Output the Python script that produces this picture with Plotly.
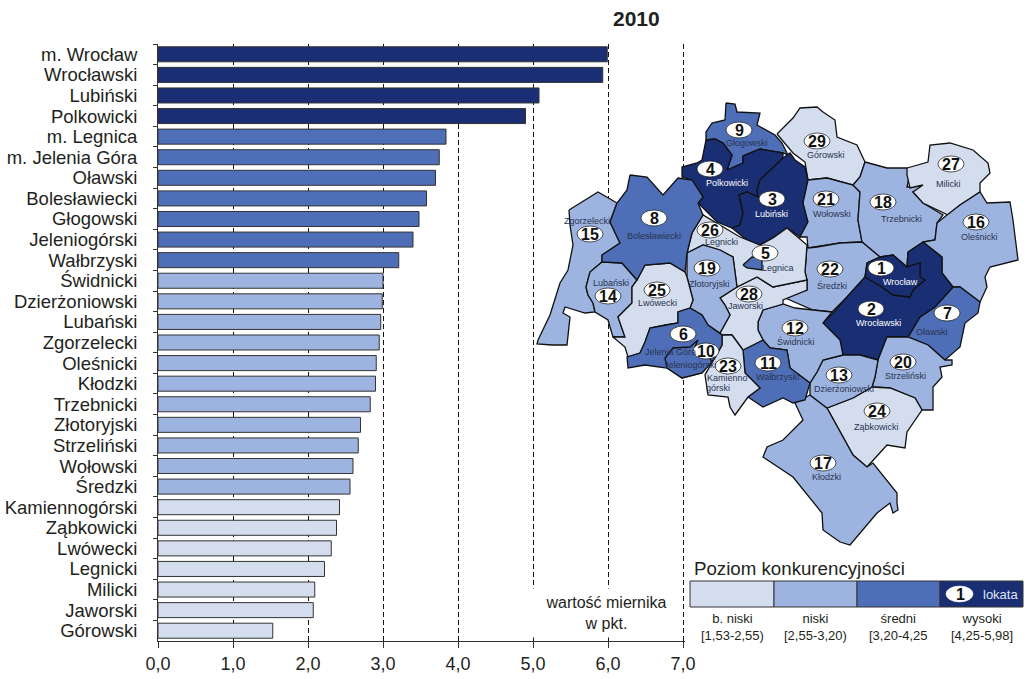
import plotly.graph_objects as go

FONT = "Liberation Sans"
TXT = "#231f20"
C_VLOW, C_LOW, C_MID, C_HIGH = "#d3ddee", "#9db3e0", "#4e6fb8", "#1a2f73"

categories = ["m. Wrocław", "Wrocławski", "Lubiński", "Polkowicki", "m. Legnica", "m. Jelenia Góra", "Oławski",
              "Bolesławiecki", "Głogowski", "Jeleniogórski", "Wałbrzyski", "Świdnicki", "Dzierżoniowski", "Lubański",
              "Zgorzelecki", "Oleśnicki", "Kłodzki", "Trzebnicki", "Złotoryjski", "Strzeliński", "Wołowski", "Średzki",
              "Kamiennogórski", "Ząbkowicki", "Lwówecki", "Legnicki", "Milicki", "Jaworski", "Górowski"]
values = [5.99, 5.93, 5.08, 4.90, 3.84, 3.75, 3.70, 3.58, 3.48, 3.40, 3.21, 3.00, 2.99, 2.97, 2.95, 2.91, 2.90,
          2.83, 2.70, 2.67, 2.60, 2.56, 2.42, 2.38, 2.31, 2.22, 2.09, 2.07, 1.53]
levels = [3, 3, 3, 3, 2, 2, 2, 2, 2, 2, 2, 1, 1, 1, 1, 1, 1, 1, 1, 1, 1, 1, 0, 0, 0, 0, 0, 0, 0]
level_colors = [C_VLOW, C_LOW, C_MID, C_HIGH]
x_ticks = [0, 1, 2, 3, 4, 5, 6, 7]
x_tick_labels = ["0,0", "1,0", "2,0", "3,0", "4,0", "5,0", "6,0", "7,0"]

# map outlines, in picture pixels
glogowski = [(726,103),(735,104),(737,112),(760,113),(757,125),(775,135),(782,143),(788,155),(783,153),(760,149),(743,156),(743,163),(727,170),(732,155),(723,143),(715,139),(706,140),(706,132),(712,123),(725,120)]
polkowicki = [(706,140),(715,139),(723,143),(732,155),(727,170),(743,163),(743,156),(760,149),(783,153),(783,158),(773,168),(760,180),(757,190),(758,197),(747,192),(739,195),(743,213),(740,225),(732,228),(717,222),(698,203),(703,197),(692,180),(682,177),(682,167),(697,163),(702,160)]
lubinski = [(783,158),(773,168),(760,180),(757,190),(758,197),(747,192),(739,195),(743,213),(740,225),(732,228),(743,237),(753,243),(760,245),(773,238),(787,228),(800,237),(808,222),(803,203),(808,180),(805,167),(795,160),(790,153)]
gorowski = [(777,134),(793,118),(800,108),(817,107),(823,112),(835,120),(837,137),(857,145),(865,162),(860,177),(853,185),(827,178),(808,180),(805,162),(793,153),(780,138)]
wolowski = [(808,180),(827,178),(853,185),(860,192),(858,220),(862,242),(840,243),(817,247),(808,248),(807,237),(800,237),(808,222),(803,203)]
trzebnicki = [(865,162),(887,168),(907,168),(910,173),(907,187),(923,186),(913,192),(923,203),(943,215),(937,223),(935,240),(923,242),(908,252),(907,267),(893,255),(880,257),(862,242),(858,220),(860,192),(853,185),(860,177)]
milicki = [(907,168),(928,162),(930,145),(950,143),(973,150),(988,163),(990,173),(980,183),(980,192),(960,205),(948,215),(923,203),(913,192),(923,185),(910,188),(907,175)]
olesnicki = [(947,215),(960,205),(980,192),(987,203),(1010,202),(1013,220),(1018,260),(990,267),(985,277),(987,287),(980,302),(960,287),(953,287),(942,273),(942,257),(923,242),(935,240),(937,223)]
wroclaw = [(867,263),(880,257),(893,255),(907,267),(920,263),(920,277),(925,280),(913,290),(910,297),(893,295),(882,287),(865,277)]
wroclawski = [(908,252),(923,242),(933,250),(942,257),(942,273),(953,287),(935,307),(920,317),(908,337),(887,337),(878,360),(860,355),(843,355),(840,340),(823,323),(833,313),(847,297),(865,277),(882,287),(893,295),(910,297),(913,290),(925,280),(920,277),(920,263),(907,267)]
sredzki = [(808,248),(817,247),(840,243),(862,242),(880,257),(867,263),(865,277),(847,297),(832,312),(813,310),(783,297),(807,290),(807,280),(805,272),(807,245)]
olawski = [(953,287),(960,287),(980,302),(978,313),(965,323),(960,347),(945,360),(928,345),(908,337),(920,317),(935,307)]
strzelinski = [(887,337),(908,337),(928,345),(945,360),(952,360),(952,365),(940,367),(942,377),(933,387),(933,410),(922,410),(915,398),(890,388),(872,387),(875,377),(878,360)]
zabkowicki = [(827,408),(853,398),(872,387),(890,388),(915,398),(922,410),(907,432),(905,448),(887,445),(867,467),(853,455)]
dzierzoniowski = [(823,360),(843,355),(860,355),(878,360),(875,377),(872,387),(853,398),(827,408),(810,395),(810,383),(817,372)]
klodzki = [(810,395),(827,408),(853,455),(867,467),(873,463),(897,493),(897,503),(898,510),(893,513),(890,503),(877,513),(850,545),(840,542),(823,530),(822,513),(793,477),(763,457),(767,447),(783,440),(803,420),(795,403)]
walbrzyski = [(743,350),(763,340),(770,348),(787,350),(790,368),(810,383),(805,400),(793,403),(783,398),(763,407),(748,397),(760,388),(745,373)]
swidnicki = [(758,322),(763,310),(783,304),(795,308),(813,310),(832,312),(823,323),(840,340),(843,355),(823,360),(817,372),(810,383),(790,368),(787,350),(770,348),(763,340),(758,330)]
jaworski = [(720,298),(737,287),(757,277),(773,287),(807,280),(807,290),(783,300),(783,304),(763,310),(758,322),(758,330),(763,340),(743,350),(732,335),(722,335),(720,333),(730,315),(725,305)]
legnicki = [(692,233),(703,215),(740,237),(760,245),(773,238),(787,228),(807,245),(805,272),(807,280),(773,287),(757,277),(737,287),(733,257),(720,250),(703,245),(687,253)]
legnica = [(743,265),(752,257),(762,258),(762,270),(747,268)]
zlotoryjski = [(687,253),(703,245),(720,250),(733,257),(737,287),(720,298),(725,305),(730,315),(720,333),(708,325),(702,315),(690,308),(693,300),(687,277)]
lwowecki = [(632,287),(637,280),(645,265),(670,263),(685,272),(687,277),(693,300),(690,308),(678,312),(678,323),(665,325),(650,328),(645,342),(640,353),(628,357),(625,347),(613,337),(625,337),(618,317),(632,303)]
lubanski = [(586,287),(590,272),(602,262),(622,263),(637,280),(632,287),(632,303),(618,317),(625,337),(613,337),(608,320),(595,312),(593,303),(588,295)]
zgorzelecki = [(569,210),(580,203),(598,192),(617,203),(610,222),(620,243),(602,255),(602,262),(590,272),(586,287),(588,295),(593,303),(595,312),(585,313),(565,307),(563,313),(570,317),(567,345),(552,345),(537,344),(538,340),(550,315),(560,283),(568,270),(573,245),(570,225)]
boleslawiecki = [(630,175),(647,177),(663,195),(678,178),(692,180),(703,197),(698,203),(703,215),(692,233),(687,253),(685,272),(670,263),(645,265),(637,280),(622,263),(602,262),(602,255),(620,243),(610,222),(617,203),(627,190)]
jeleniogorski = [(690,308),(702,315),(708,325),(722,335),(722,345),(715,358),(702,373),(682,378),(667,368),(645,365),(628,368),(627,357),(640,353),(645,342),(650,328),(665,325),(678,323),(678,312)]
jelenia_gora = [(667,368),(665,358),(673,348),(690,347),(698,340),(695,347),(705,350),(712,362),(702,373),(682,378)]
kamiennogorski = [(722,335),(732,335),(743,350),(745,373),(760,388),(748,397),(735,415),(730,407),(728,397),(708,395),(705,375),(715,358),(722,345)]

regions = [(glogowski, C_MID), (gorowski, C_VLOW), (polkowicki, C_HIGH), (lubinski, C_HIGH), (wolowski, C_LOW),
           (trzebnicki, C_LOW), (milicki, C_VLOW), (olesnicki, C_LOW), (sredzki, C_LOW), (olawski, C_MID),
           (wroclawski, C_HIGH), (wroclaw, C_HIGH), (strzelinski, C_LOW), (zabkowicki, C_VLOW), (klodzki, C_LOW),
           (dzierzoniowski, C_LOW), (swidnicki, C_LOW), (walbrzyski, C_MID), (jaworski, C_VLOW), (legnicki, C_VLOW),
           (legnica, C_MID), (zlotoryjski, C_LOW), (zgorzelecki, C_LOW), (lubanski, C_LOW), (lwowecki, C_VLOW),
           (boleslawiecki, C_MID), (kamiennogorski, C_VLOW), (jeleniogorski, C_MID), (jelenia_gora, C_MID)]

rank_numbers = list(range(1, 30))
rank_x = [881, 871, 772, 710, 765, 683, 947, 654, 739, 706, 768, 795, 839, 608, 590, 976, 823, 883, 707, 903, 826, 830, 728, 877, 657, 710, 951, 749, 817]
rank_y = [268, 309, 199, 169, 253, 334, 313, 218, 130, 351, 363, 328, 375, 296, 234, 222, 463, 202, 268, 362, 199, 269, 366, 411, 290, 230, 164, 294, 141]
name_text = ["Wrocław", "Wrocławski", "Lubiński", "Polkowicki", "Legnica", "Jelenia Góra", "Oławski", "Bolesławiecki", "Głogowski", "Jeleniogórski", "Wałbrzyski", "Świdnicki", "Dzierżoniowski", "Lubański", "Zgorzelecki", "Oleśnicki", "Kłodzki", "Trzebnicki", "Złotoryjski", "Strzeliński", "Wołowski", "Średzki", "Kamienno", "Ząbkowicki", "Lwówecki", "Legnicki", "Milicki", "Jaworski", "Górowski"]
name_x = [900, 878, 771, 727, 778, 670, 932, 654, 747, 690, 777, 796, 844, 611, 587, 979, 826, 901, 709, 905, 832, 832, 727, 876, 657, 721, 948, 745, 826]
name_y = [282, 323, 214, 183, 268, 352, 332, 236, 143, 365, 377, 341, 389, 283, 221, 237, 477, 219, 284, 376, 214, 285, 378, 427, 303, 242, 184, 306, 155]
name_white = {0, 1, 2, 3}
extra_name, extra_name_x, extra_name_y = "górski", 718, 388

legend_edges = [690, 774, 857, 940, 1023]
legend_labels = ["b. niski<br>[1,53-2,55)", "niski<br>[2,55-3,20)", "średni<br>[3,20-4,25", "wysoki<br>[4,25-5,98]"]

fig = go.Figure()
fig.add_trace(go.Bar(y=categories, x=values, orientation="h", xaxis="x", yaxis="y", showlegend=False,
                     marker=dict(color=[level_colors[i] for i in levels], line=dict(color="#333333", width=1))))
for poly, col in regions:
    xs = [p[0] for p in poly] + [poly[0][0]]
    ys = [p[1] for p in poly] + [poly[0][1]]
    fig.add_trace(go.Scatter(x=xs, y=ys, xaxis="x2", yaxis="y2", mode="lines", fill="toself", fillcolor=col,
                             line=dict(color="#111111", width=1.3), showlegend=False, hoverinfo="skip"))

shapes, ann = [], []
for i, (x, y) in enumerate(zip(rank_x, rank_y)):
    shapes.append(dict(type="circle", xref="x2", yref="y2", x0=x-13, x1=x+13, y0=y-8, y1=y+8,
                       fillcolor="white", line=dict(color="#111111", width=0.7), layer="above"))
    ann.append(dict(x=x, y=y+0.5, xref="x2", yref="y2", text=str(rank_numbers[i]), showarrow=False,
                    font=dict(family=FONT, size=16, color="#111111", weight="bold")))
    ann.append(dict(x=name_x[i], y=name_y[i], xref="x2", yref="y2", text=name_text[i], showarrow=False,
                    font=dict(family=FONT, size=9, color="white" if i in name_white else "#2a3350")))
ann.append(dict(x=extra_name_x, y=extra_name_y, xref="x2", yref="y2", text=extra_name, showarrow=False,
                font=dict(family=FONT, size=9, color="#2a3350")))

for i in range(4):
    shapes.append(dict(type="rect", xref="x2", yref="y2", x0=legend_edges[i], x1=legend_edges[i+1], y0=581, y1=607,
                       fillcolor=level_colors[i], line=dict(color="#333333", width=1), layer="above"))
    ann.append(dict(x=(legend_edges[i]+legend_edges[i+1])/2, y=627, xref="x2", yref="y2", text=legend_labels[i],
                    showarrow=False, font=dict(family=FONT, size=13, color=TXT)))
shapes.append(dict(type="circle", xref="x2", yref="y2", x0=946, x1=973, y0=586, y1=602, fillcolor="white",
                   line=dict(color="white", width=0.5), layer="above"))
ann += [
    dict(x=960, y=594.5, xref="x2", yref="y2", text="1", showarrow=False, font=dict(family=FONT, size=16, color="#111111", weight="bold")),
    dict(x=1000, y=594.5, xref="x2", yref="y2", text="lokata", showarrow=False, font=dict(family=FONT, size=13, color="#dfe6f5")),
    dict(x=692, y=568, xref="x2", yref="y2", xanchor="left", text="Poziom konkurencyjności", showarrow=False, font=dict(family=FONT, size=18.7, color=TXT)),
    dict(x=636, y=18, xref="x2", yref="y2", text="2010", showarrow=False, font=dict(family=FONT, size=21, color=TXT, weight="bold")),
    dict(x=606, y=613, xref="x2", yref="y2", text="wartość miernika<br>w pkt.", showarrow=False, bgcolor="white",
         width=150, height=46, font=dict(family=FONT, size=16, color=TXT)),
]

fig.update_layout(
    width=1027, height=679, margin=dict(l=0, r=0, t=0, b=0), autosize=False,
    paper_bgcolor="white", plot_bgcolor="rgba(0,0,0,0)", bargap=0.27, shapes=shapes, annotations=ann,
    font=dict(family=FONT, color=TXT),
    xaxis=dict(domain=[158/1027, (158+7.02*75)/1027], range=[0, 7.02], tickvals=x_ticks, ticktext=x_tick_labels, ticks="outside",
               ticklen=6, tickcolor="#333333", showgrid=True, gridcolor="#111111", griddash="5px,3px", gridwidth=1,
               zeroline=False, showline=True, linecolor="#333333", automargin=False, tickfont=dict(size=18, family=FONT, color=TXT)),
    yaxis=dict(domain=[1-641/679, 1-44/679], categoryorder="array", categoryarray=categories, autorange="reversed",
               tickmode="linear", tick0=0, dtick=1, tickson="boundaries", ticks="outside", ticklen=4, tickcolor="#333333",
               showline=True, linecolor="#333333", automargin=False, ticklabelstandoff=16,
               tickfont=dict(size=18.5, family=FONT, color=TXT)),
    xaxis2=dict(domain=[0, 1], range=[0, 1027], visible=False, anchor="y2", fixedrange=True, automargin=False),
    yaxis2=dict(domain=[0, 1], range=[679, 0], visible=False, anchor="x2", fixedrange=True, automargin=False),
)
fig.write_html("out.html", config={"displayModeBar": False}, post_script="document.body.style.margin='0';")
